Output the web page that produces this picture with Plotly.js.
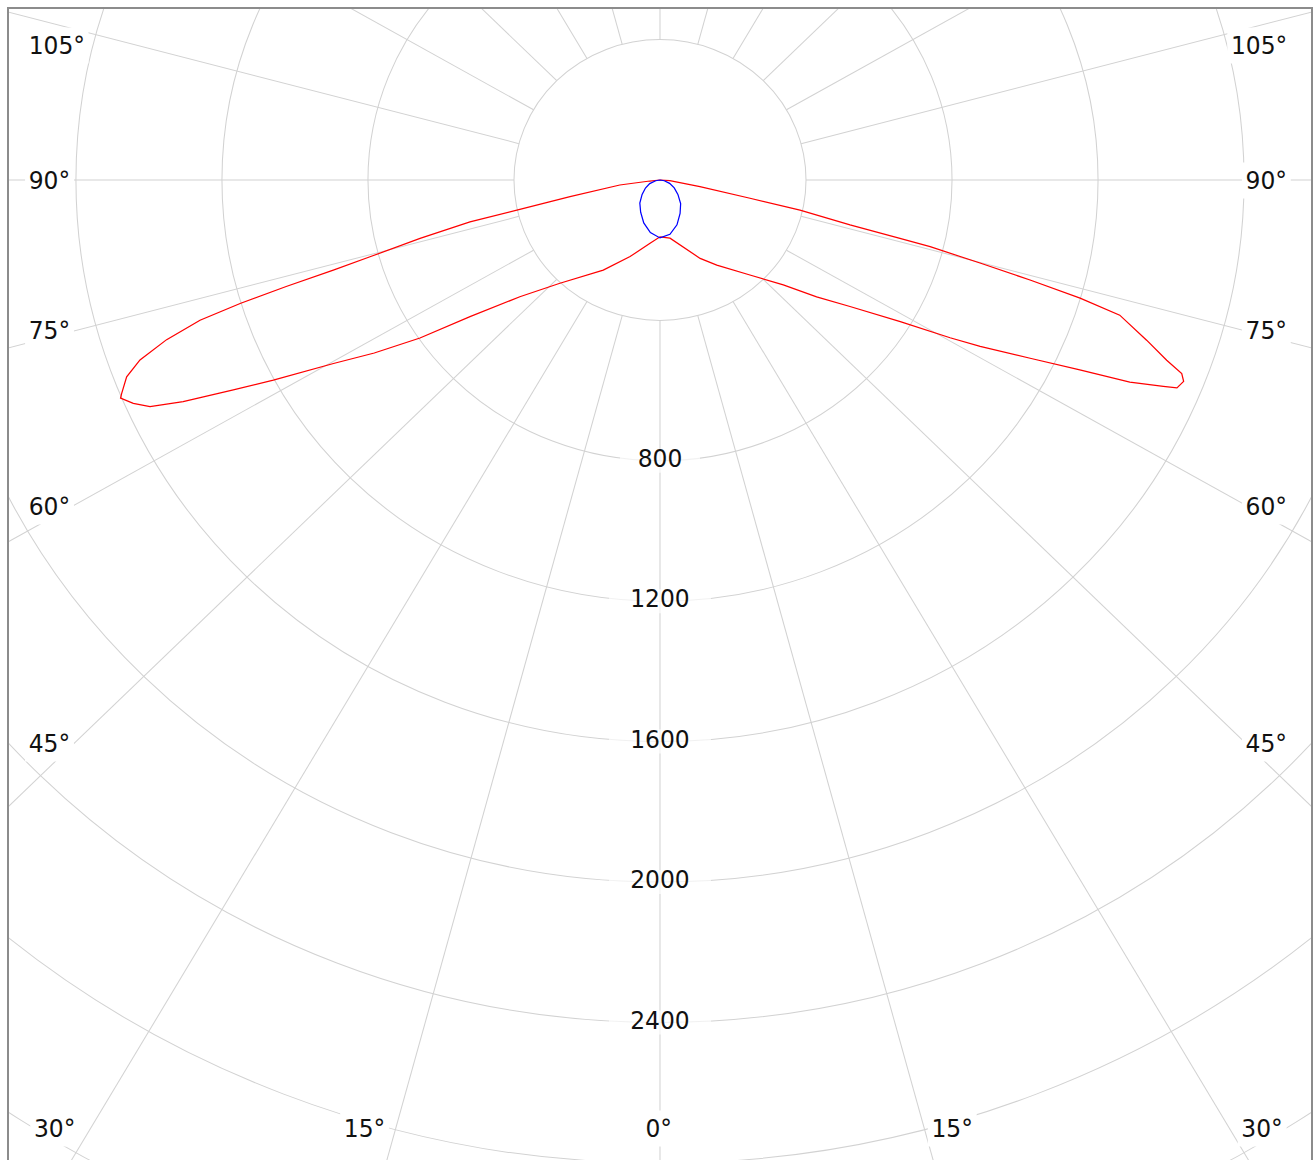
<!DOCTYPE html>
<html>
<head>
<meta charset="utf-8">
<script src="https://cdn.plot.ly/plotly-3.0.1.min.js"></script>
<style>
html, body { margin: 0; padding: 0; background: #ffffff; overflow: hidden; }
#frame { position: absolute; left: 7px; top: 7px; width: 1302px; height: 1200px;
         border: 2px solid #8c8c8c; overflow: hidden; background: #ffffff; }
#chart { position: absolute; }
</style>
</head>
<body>
<div id="frame"><div id="chart"></div></div>
<script>
// ---------------- data ----------------
// Red curve: angle from nadir (deg, negative = left half), intensity
const redTheta = [-90, -84, -82.6, -79.1, -77.7, -77.1, -75.8, -74.6, -74.0, -73.5, -73.0, -72.4, -71.4, -70.2, -69.0, -67.6, -67.2, -66.2, -65.2, -64.2, -62.9, -61.7, -59.7, -57.8, -55.6, -53.2, -49.1, -43.0, -31.2, -20.6, -8.6, 0, 9.4, 26.2, 32.7, 42.3, 48.5, 52.2, 55.3, 58.5, 60.5, 61.6, 63.4, 64.8, 65.9, 66.9, 67.3, 68.2, 68.9, 69.7, 71.1, 73.0, 73.7, 74.3, 74.9, 75.6, 75.8, 76.2, 77.4, 78.1, 80.1, 86, 90];
const redR = [0, 28, 111, 251, 393, 534, 678, 824, 931, 1068, 1201, 1322, 1426, 1514, 1565, 1595, 1603, 1577, 1539, 1451, 1313, 1203, 1036, 925, 797, 650, 508, 402, 300, 233, 182, 162, 168, 249, 288, 366, 451, 543, 633, 772, 913, 997, 1134, 1271, 1410, 1499, 1535, 1545, 1532, 1480, 1409, 1317, 1199, 1053, 908, 764, 678, 536, 393, 252, 111, 27, 0];

// Blue curve
const blueTheta = [-90, -80, -70, -60, -50, -40, -30, -20, -10, 0, 10, 20, 30, 40, 50, 60, 70, 80, 90];
const blueR = [0, 12, 30, 46, 64, 86, 106, 130, 152, 165, 157, 136, 110, 88, 64, 45, 28, 12, 0];

// Grid / tick definitions
const radialGridValues = [400, 800, 1200, 1600, 2000, 2400, 2800, 3200];
const radialTickValues = [800, 1200, 1600, 2000, 2400];
const radialTickLabels = ['800', '1200', '1600', '2000', '2400'];
const spokeAngles = [0, 15, 30, 45, 60, 75, 90, 105, 120, 135, 150, 165, 180, 195, 210, 225, 240, 255, 270, 285, 300, 315, 330, 345];
const spokeStart = 400;
const sideAngleLabels = ['105°', '90°', '75°', '60°', '45°'];
const bottomAngleLabels = ['30°', '15°', '0°', '15°', '30°'];

// ---------------- layout geometry ----------------
const CX = 660, CY = 180;          // pole position in the page
const FRAME_X = 9, FRAME_Y = 9;    // inner origin of the frame
const PX_PER_UNIT = 0.351;
const R = 1200;                    // polar radius in px
const RMAX = R / PX_PER_UNIT;
const XSTRETCH = 1.04;

// label anchor positions (page px) -- layout only
const sideLabelY = [45, 180, 330, 506, 743];
const leftLabelX = 25, rightLabelX = 1291;
const bottomLabelX = [55, 365, 659, 952, 1262];
const bottomLabelY = 1128;

const chart = document.getElementById('chart');
chart.style.left = (CX - FRAME_X - R) + 'px';
chart.style.top = (CY - FRAME_Y - R) + 'px';
chart.style.width = (2 * R) + 'px';
chart.style.height = (2 * R) + 'px';
chart.style.transform = 'scaleX(' + XSTRETCH + ')';
chart.style.transformOrigin = R + 'px ' + R + 'px';

function toPaper(X, Y) {
  return { x: (R + (X - CX) / XSTRETCH) / (2 * R), y: 1 - (Y - CY + R) / (2 * R) };
}

const FONT = { family: "'DejaVu Sans Condensed', 'DejaVu Sans', sans-serif", size: 25, color: '#111111' };
const GRID = '#d2d2d2';

// spokes
const spokeR = [], spokeT = [];
spokeAngles.forEach(a => { spokeR.push(spokeStart, RMAX * 1.1, null); spokeT.push(a, a, null); });

const traces = [
  { type: 'scatterpolar', mode: 'lines', r: spokeR, theta: spokeT,
    line: { color: GRID, width: 1 }, hoverinfo: 'skip', showlegend: false },
  { type: 'scatterpolar', mode: 'markers+text', r: radialTickValues,
    theta: radialTickValues.map(() => 0), text: radialTickLabels,
    textposition: 'middle center', textfont: FONT,
    marker: { symbol: 'line-ew', size: radialTickLabels.map(t => t.length * 15 + 10),
              color: '#ffffff', line: { color: '#ffffff', width: 24 } },
    hoverinfo: 'skip', showlegend: false, cliponaxis: false },
  { type: 'scatterpolar', mode: 'lines', r: redR, theta: redTheta,
    line: { color: '#ff0000', width: 1.2 }, name: 'C0-C180', showlegend: false },
  { type: 'scatterpolar', mode: 'lines', r: blueR, theta: blueTheta,
    line: { color: '#0000ff', width: 1.2 }, name: 'C90-C270', showlegend: false }
];

const annotations = [];
sideAngleLabels.forEach((t, i) => {
  const pl = toPaper(leftLabelX, sideLabelY[i]);
  annotations.push({ text: t, x: pl.x, y: pl.y, xref: 'paper', yref: 'paper', xanchor: 'left', yanchor: 'middle',
    showarrow: false, font: FONT, bgcolor: '#ffffff', borderpad: 3 });
  const pr = toPaper(rightLabelX, sideLabelY[i]);
  annotations.push({ text: t, x: pr.x, y: pr.y, xref: 'paper', yref: 'paper', xanchor: 'right', yanchor: 'middle',
    showarrow: false, font: FONT, bgcolor: '#ffffff', borderpad: 3 });
});
bottomAngleLabels.forEach((t, i) => {
  const p = toPaper(bottomLabelX[i], bottomLabelY);
  annotations.push({ text: t, x: p.x, y: p.y, xref: 'paper', yref: 'paper', xanchor: 'center', yanchor: 'middle',
    showarrow: false, font: FONT, bgcolor: '#ffffff', borderpad: 3 });
});

const layout = {
  width: 2 * R, height: 2 * R, autosize: false,
  margin: { l: 0, r: 0, t: 0, b: 0, pad: 0 },
  paper_bgcolor: '#ffffff', plot_bgcolor: '#ffffff',
  showlegend: false,
  polar: {
    domain: { x: [0, 1], y: [0, 1] },
    bgcolor: '#ffffff',
    radialaxis: { range: [0, RMAX], tickvals: radialGridValues, showticklabels: false, ticks: '',
                  showline: false, showgrid: true, gridcolor: GRID, gridwidth: 1 },
    angularaxis: { rotation: -90, direction: 'counterclockwise', showgrid: false, showline: false,
                   showticklabels: false, ticks: '' }
  },
  annotations: annotations
};

Plotly.newPlot(chart, traces, layout, { staticPlot: true, displayModeBar: false });
</script>
</body>
</html>
